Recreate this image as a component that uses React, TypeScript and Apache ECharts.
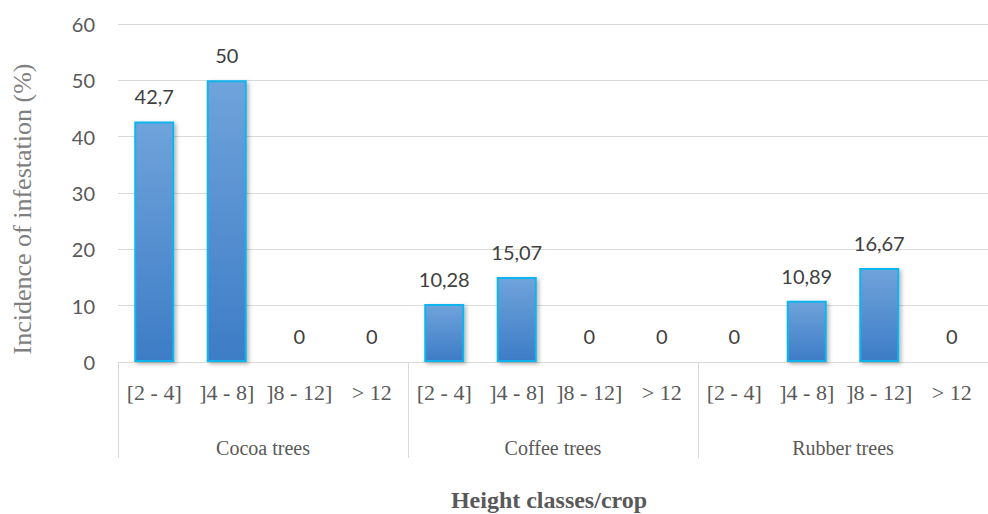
import React, { useEffect, useRef } from "react";
import * as echarts from "echarts";

const heightClasses = [
  "[2 - 4]", "]4 - 8]", "]8 - 12]", "> 12",
  "[2 - 4]", "]4 - 8]", "]8 - 12]", "> 12",
  "[2 - 4]", "]4 - 8]", "]8 - 12]", "> 12",
];
const crops = ["Cocoa trees", "Coffee trees", "Rubber trees"];
const incidence = [42.7, 50, 0, 0, 10.28, 15.07, 0, 0, 0, 10.89, 16.67, 0];
const valueLabels = ["42,7", "50", "0", "0", "10,28", "15,07", "0", "0", "0", "10,89", "16,67", "0"];
const yTitle = "Incidence of infestation (%)";
const xTitle = "Height classes/crop";

const SERIF = "'Liberation Serif', 'DejaVu Serif', serif";
const SANS = "Lato, 'Liberation Sans', sans-serif";

export default function App() {
  const ref = useRef<HTMLDivElement>(null);
  useEffect(() => {
    if (!ref.current) return;
    const chart = echarts.init(ref.current, undefined, { renderer: "svg" });
    chart.setOption({
      animation: false,
      backgroundColor: "#ffffff",
      grid: { left: 118, top: 24, width: 876, bottom: 152, containLabel: false },
      xAxis: [
        {
          type: "category",
          data: heightClasses,
          position: "bottom",
          axisLine: { show: true, lineStyle: { color: "#d9d9d9", width: 1 } },
          axisTick: { show: false },
          axisLabel: { interval: 0, margin: 19, color: "#595959", fontFamily: SERIF, fontSize: 22 },
        },
        {
          type: "category",
          data: crops,
          position: "bottom",
          axisLine: { show: false },
          axisTick: { show: true, length: 96, lineStyle: { color: "#d9d9d9", width: 1 } },
          axisLabel: { interval: 0, margin: 76, color: "#595959", fontFamily: SERIF, fontSize: 20 },
        },
      ],
      yAxis: {
        type: "value",
        min: 0,
        max: 60,
        interval: 10,
        axisLine: { show: false },
        axisTick: { show: false },
        axisLabel: { margin: 23, color: "#595959", fontFamily: SANS, fontSize: 20 },
        splitLine: { lineStyle: { color: "#d9d9d9", width: 1 } },
      },
      graphic: [
        {
          type: "text",
          x: 22,
          y: 209,
          rotation: Math.PI / 2,
          style: {
            text: yTitle,
            fill: "#7f7f7f",
            font: `26px ${SERIF}`,
            textAlign: "center",
            textVerticalAlign: "middle",
          },
        },
        {
          type: "text",
          x: 549,
          y: 500,
          style: {
            text: xTitle,
            fill: "#595959",
            font: `bold 24px ${SERIF}`,
            textAlign: "center",
            textVerticalAlign: "middle",
          },
        },
      ],
      series: [
        {
          type: "bar",
          xAxisIndex: 0,
          data: incidence,
          barWidth: 40,
          itemStyle: {
            color: new echarts.graphic.LinearGradient(0, 0, 0, 1, [
              { offset: 0, color: "#6fa3db" },
              { offset: 1, color: "#3d7cc6" },
            ]),
            borderColor: "#10b4ee",
            borderWidth: 2,
            shadowColor: "rgba(0,0,0,0.3)",
            shadowBlur: 4,
            shadowOffsetX: 2,
            shadowOffsetY: 2,
          },
          label: {
            show: true,
            position: "top",
            distance: 15,
            color: "#404040",
            fontFamily: SANS,
            fontSize: 20,
            formatter: (p: any) => valueLabels[p.dataIndex],
          },
        },
      ],
    });
    return () => chart.dispose();
  }, []);
  return (
    <div
      ref={ref}
      style={{ position: "fixed", left: 0, top: 0, width: 988, height: 514, background: "#fff" }}
    />
  );
}
